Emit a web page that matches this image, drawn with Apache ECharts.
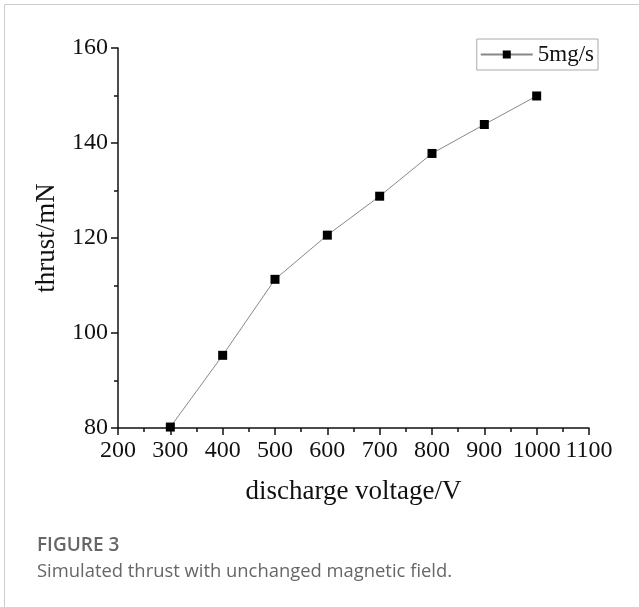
<!DOCTYPE html>
<html>
<head>
<meta charset="utf-8">
<script src="https://cdn.jsdelivr.net/npm/echarts@6/dist/echarts.min.js"></script>
<style>
html,body{margin:0;padding:0;background:#fff;}
#c{width:639px;height:607px;}
</style>
</head>
<body>
<div id="c"></div>
<script>
var voltage = [300, 400, 500, 600, 700, 800, 900, 1000];
var thrust = [80.2, 95.3, 111.3, 120.6, 128.8, 137.8, 143.9, 149.9];
var seriesName = '5mg/s';
var xName = 'discharge voltage/V';
var yName = 'thrust/mN';
var figLabel = 'FIGURE 3';
var figCaption = 'Simulated thrust with unchanged magnetic field.';

var serif = '"Liberation Serif", "Times New Roman", serif';
var chart = echarts.init(document.getElementById('c'));
chart.setOption({
  animation: false,
  backgroundColor: '#fff',
  grid: {left: 118, right: 50, top: 48, bottom: 179, containLabel: false},
  legend: {
    right: 41, top: 39,
    data: [seriesName],
    borderColor: '#aaa', borderWidth: 1,
    padding: [4, 4, 4, 3],
    itemWidth: 52, itemHeight: 10, itemGap: 6,
    textStyle: {fontFamily: serif, fontSize: 23, color: '#111'}
  },
  xAxis: {
    type: 'value', min: 200, max: 1100, interval: 100,
    name: xName, nameLocation: 'middle', nameGap: 50,
    nameTextStyle: {fontFamily: serif, fontSize: 27, color: '#111'},
    axisLine: {show: true, onZero: false, lineStyle: {color: '#111', width: 1.5}},
    axisTick: {show: true, inside: false, length: 7, lineStyle: {color: '#111', width: 1.5}},
    minorTick: {show: true, splitNumber: 2, length: 4, lineStyle: {color: '#111', width: 1.5}},
    axisLabel: {fontFamily: serif, fontSize: 24, color: '#111', margin: 11, formatter: function (v) { return String(v); }},
    splitLine: {show: false}
  },
  yAxis: {
    type: 'value', min: 80, max: 160, interval: 20,
    name: yName, nameLocation: 'middle', nameGap: 58, nameRotate: 90,
    nameTextStyle: {fontFamily: serif, fontSize: 27, color: '#111'},
    axisLine: {show: true, onZero: false, lineStyle: {color: '#111', width: 1.5}},
    axisTick: {show: true, inside: false, length: 7, lineStyle: {color: '#111', width: 1.5}},
    minorTick: {show: true, splitNumber: 2, length: 4, lineStyle: {color: '#111', width: 1.5}},
    axisLabel: {fontFamily: serif, fontSize: 24, color: '#111', margin: 10, formatter: function (v) { return String(v); }},
    splitLine: {show: false}
  },
  series: [{
    name: seriesName,
    type: 'line',
    data: voltage.map(function (v, i) { return [v, thrust[i]]; }),
    symbol: 'rect', symbolSize: 9,
    itemStyle: {color: '#000'},
    lineStyle: {color: '#888', width: 1}
  }],
  graphic: [
    {type: 'line', shape: {x1: 4.5, y1: 4.5, x2: 639, y2: 4.5}, style: {stroke: '#ccc', lineWidth: 1}},
    {type: 'line', shape: {x1: 4.5, y1: 4.5, x2: 4.5, y2: 607}, style: {stroke: '#ccc', lineWidth: 1}},
    {type: 'text', left: 37, top: 536, style: {text: figLabel, font: '600 19px "Open Sans", Lato, sans-serif', fill: '#666'}},
    {type: 'text', left: 37, top: 563, style: {text: figCaption, font: '18.4px "Open Sans", Lato, sans-serif', fill: '#666'}}
  ]
});
</script>
</body>
</html>
